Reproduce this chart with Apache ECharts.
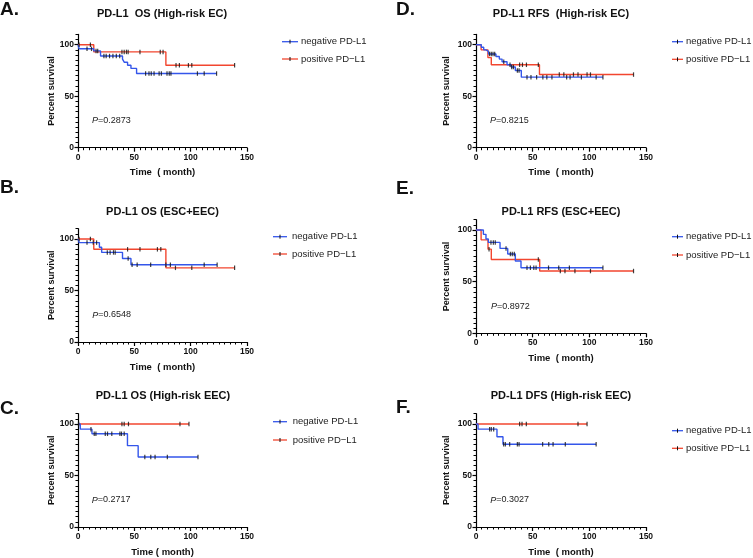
<!DOCTYPE html>
<html><head><meta charset="utf-8">
<script src="https://cdn.jsdelivr.net/npm/echarts@6/dist/echarts.min.js"></script>
<style>html,body{margin:0;padding:0;background:#fff}#c{width:753px;height:558px}</style>
</head><body><div id="c"></div>
<script>
// ---------- labels ----------
const panelLetters = ['A.', 'B.', 'C.', 'D.', 'E.', 'F.'];
const panelTitles = ['PD-L1  OS (High-risk EC)', 'PD-L1 OS (ESC+EEC)', 'PD-L1 OS (High-risk EEC)',
                     'PD-L1 RFS  (High-risk EC)', 'PD-L1 RFS (ESC+EEC)', 'PD-L1 DFS (High-risk EEC)'];
const pValues = ['0.2873', '0.6548', '0.2717', '0.8215', '0.8972', '0.3027'];
const xNames = ['Time  ( month)', 'Time  ( month)', 'Time ( month)', 'Time  ( month)', 'Time  ( month)', 'Time  ( month)'];
const yName = 'Percent survival';
const seriesNames = ['negative PD-L1', 'positive PD\u2212L1'];
const xTicks = [0, 50, 100, 150];
const yTicks = [0, 50, 100];

// ---------- data: step times (t), survival after step (s), censor times (c) ----------
// A. OS High-risk EC
const A_neg_t = [0, 1, 14, 20, 39.5, 41, 44, 47, 52, 123];
const A_neg_s = [100, 96, 94, 89, 86, 83, 80, 77, 72, 72];
const A_neg_c = [8, 12, 16, 17.5, 23, 25, 28, 31, 34, 37, 60, 63, 65, 67.5, 72, 74, 79, 81, 82.5, 106, 112, 123];
const A_pos_t = [0, 14, 78, 139];
const A_pos_s = [100, 93, 80, 80];
const A_pos_c = [1, 11, 39, 41, 43, 44.5, 55, 73, 75.5, 87, 90, 98, 101, 139];
// B. OS ESC+EEC
const B_neg_t = [0, 1, 19, 21, 39.5, 47, 123.5];
const B_neg_s = [100, 96.5, 92, 87, 81, 75, 75];
const B_neg_c = [8, 13.5, 16.5, 26, 28.5, 31.5, 33, 44.5, 48, 52.5, 64.5, 78, 82, 112, 123.5];
const B_pos_t = [0, 14, 78, 139];
const B_pos_s = [100, 90, 72, 72];
const B_pos_c = [1, 11, 44, 55, 70.5, 73.5, 86.5, 101, 139];
// C. OS High-risk EEC
const C_neg_t = [0, 2, 12.4, 43.9, 53.4, 106.5];
const C_neg_s = [100, 95, 90.5, 79, 68, 68];
const C_neg_c = [0.5, 11.5, 14.4, 15.9, 24.2, 26.2, 30, 37.2, 38.6, 41, 59.3, 64.6, 68.4, 79.3, 106.5];
const C_pos_t = [0, 98.5];
const C_pos_s = [100, 100];
const C_pos_c = [0.5, 39, 41, 44.8, 90.5, 98.5];
// D. RFS High-risk EC
const D_neg_t = [0, 4.7, 6.8, 8.8, 11, 17.6, 20.6, 23, 27.4, 31, 34.7, 40, 112];
const D_neg_s = [100, 97.5, 95, 93.5, 91, 88.5, 86, 83.4, 80.5, 78.3, 75, 68.5, 68.5];
const D_neg_c = [12, 13.5, 15, 16.5, 24.5, 30, 31.5, 33, 36.5, 38, 45, 48.5, 53.5, 59, 62.5, 67, 80, 83, 93, 106, 112];
const D_pos_t = [0, 4.5, 10.5, 13.5, 56, 139];
const D_pos_s = [100, 95, 87.5, 80.5, 71, 71];
const D_pos_c = [38.5, 41, 44.5, 55, 73.5, 77.5, 86, 90, 98, 101, 139];
// E. RFS ESC+EEC
const E_neg_t = [0, 6.5, 8.8, 10.9, 21.2, 28, 34.7, 39.7, 112];
const E_neg_s = [100, 95.8, 91.3, 88, 82.2, 76.8, 70, 63.5, 63.5];
const E_neg_c = [13.2, 15.3, 17, 26.5, 30.3, 32, 33.8, 45, 48, 51, 53, 64, 73, 82.4, 112];
const E_pos_t = [0, 4.5, 10.6, 13.5, 56.2, 139];
const E_pos_s = [100, 90.5, 81.5, 71.5, 60.3, 60.3];
const E_pos_c = [11.5, 55, 74.4, 78.5, 87.3, 101, 139];
// F. DFS High-risk EEC
const F_neg_t = [0, 1.8, 18.5, 23.8, 106];
const F_neg_s = [100, 95, 87.6, 80.4, 80.4];
const F_neg_c = [12, 13.5, 15.6, 24.4, 25.9, 29.7, 36.5, 38, 58.8, 64.2, 68, 78.8, 106];
const F_pos_t = [0, 98];
const F_pos_s = [100, 100];
const F_pos_c = [38.5, 40.6, 44.4, 90, 98];

const panelData = [
  [[A_neg_t, A_neg_s, A_neg_c], [A_pos_t, A_pos_s, A_pos_c]],
  [[B_neg_t, B_neg_s, B_neg_c], [B_pos_t, B_pos_s, B_pos_c]],
  [[C_neg_t, C_neg_s, C_neg_c], [C_pos_t, C_pos_s, C_pos_c]],
  [[D_neg_t, D_neg_s, D_neg_c], [D_pos_t, D_pos_s, D_pos_c]],
  [[E_neg_t, E_neg_s, E_neg_c], [E_pos_t, E_pos_s, E_pos_c]],
  [[F_neg_t, F_neg_s, F_neg_c], [F_pos_t, F_pos_s, F_pos_c]]
];

// ---------- layout (positions & styles) ----------
const grids = [
  {left: 78, top: 34.4, width: 169, height: 113.3},
  {left: 78, top: 228.7, width: 169, height: 113.3},
  {left: 78, top: 413.7, width: 169, height: 113.6},
  {left: 476, top: 34.4, width: 170, height: 113.3},
  {left: 476, top: 219.7, width: 170, height: 113.6},
  {left: 476, top: 413.7, width: 170, height: 113.6}
];
const yNameGaps = [22, 22, 22, 25, 25, 25];
const titlePos = [[162, 14.3], [162.5, 212.3], [163, 395.7], [561, 14.3], [561, 211.7], [561, 395.7]];
const letterPos = [[0, 10], [0, 188], [0, 409], [396, 10], [396, 188.5], [396, 407.5]];
const pPos = [[92, 120.7], [92.3, 315], [91.7, 500], [490, 120.7], [491, 306.7], [490.3, 500]];
const legPos = [ // x1, x2, textX, y1, y2
  [282, 298, 301, 41.7, 59], [273, 287, 292, 236.7, 254], [273, 287, 292.7, 421.7, 440],
  [672, 683, 686, 41.7, 59.3], [672, 683, 686, 236.7, 255], [672, 683, 686, 430.7, 448.3]
];
const colors = ['#3456ea', '#f2462f'];
const FONT = '"Liberation Sans", Arial, Helvetica, sans-serif';

function survAt(t, s, x) {
  let v = s[0];
  for (let i = 0; i < t.length; i++) { if (t[i] <= x) v = s[i]; }
  return v;
}

const option = {
  animation: false,
  backgroundColor: '#fff',
  grid: grids.map(g => Object.assign({containLabel: false}, g)),
  xAxis: [], yAxis: [], series: [], graphic: []
};

grids.forEach((g, i) => {
  option.xAxis.push({
    type: 'value', gridIndex: i, min: 0, max: 150, interval: 50,
    name: xNames[i], nameLocation: 'middle', nameGap: 20,
    nameTextStyle: {fontFamily: FONT, fontWeight: 'bold', fontSize: 9.5, color: '#111'},
    axisLine: {show: true, lineStyle: {color: '#000', width: 1.2}},
    axisTick: {show: true, length: 4, lineStyle: {color: '#000', width: 1.2}},
    minorTick: {show: true, splitNumber: 10, length: 2.5, lineStyle: {color: '#000', width: 1}},
    axisLabel: {fontFamily: FONT, fontWeight: 'bold', fontSize: 8.5, color: '#111', margin: 5,
      customValues: xTicks},
    splitLine: {show: false}, minorSplitLine: {show: false}
  });
  option.yAxis.push({
    type: 'value', gridIndex: i, position: 'left', min: 0, max: 110, interval: 50,
    name: yName, nameLocation: 'middle', nameGap: yNameGaps[i], nameRotate: 90,
    nameTextStyle: {fontFamily: FONT, fontWeight: 'bold', fontSize: 9, color: '#111'},
    axisLine: {show: true, lineStyle: {color: '#000', width: 1.2}},
    axisTick: {show: true, length: 3.5, customValues: yTicks, lineStyle: {color: '#000', width: 1.2}},
    axisLabel: {fontFamily: FONT, fontWeight: 'bold', fontSize: 8.5, color: '#111', margin: 4,
      customValues: yTicks, formatter: v => (v > 100 ? '' : String(v))},
    splitLine: {show: false}
  });
  option.yAxis.push({
    type: 'value', gridIndex: i, position: 'left', offset: 0, min: 0, max: 110, interval: 5,
    axisLine: {show: false, onZero: false},
    axisTick: {show: true, length: 2.5, lineStyle: {color: '#000', width: 1}},
    axisLabel: {show: false}, splitLine: {show: false}
  });
  const yIdx = i * 2;
  [1, 0].forEach(k => {
    const [t, s, c] = panelData[i][k];
    option.series.push({
      type: 'line', name: seriesNames[k], xAxisIndex: i, yAxisIndex: yIdx,
      step: 'end', showSymbol: false, symbol: 'none', silent: true,
      lineStyle: {color: colors[k], width: 1.4}, z: 2 + (k === 0 ? 1 : 0),
      data: t.map((x, j) => [x, s[j]])
    });
  });
  [1, 0].forEach(k => {
    const [t, s, c] = panelData[i][k];
    option.series.push({
      type: 'scatter', name: seriesNames[k] + ' censored', xAxisIndex: i, yAxisIndex: yIdx,
      symbol: 'rect', symbolSize: [1.2, 4.5], silent: true,
      itemStyle: {color: '#111'}, z: 5,
      data: c.map(x => [x, survAt(t, s, x)])
    });
  });

  option.graphic.push({type: 'text', x: titlePos[i][0], y: titlePos[i][1], silent: true,
    style: {text: panelTitles[i], fill: '#111', font: 'bold 11px ' + FONT,
      textAlign: 'center', textVerticalAlign: 'middle', align: 'center', verticalAlign: 'middle'}});
  option.graphic.push({type: 'text', x: letterPos[i][0], y: letterPos[i][1], silent: true,
    style: {text: panelLetters[i], fill: '#111', font: 'bold 19px ' + FONT,
      textAlign: 'left', textVerticalAlign: 'middle', align: 'left', verticalAlign: 'middle'}});
  option.graphic.push({type: 'text', x: pPos[i][0], y: pPos[i][1], silent: true,
    style: {text: '{i|P}=' + pValues[i], fill: '#222', font: '9px ' + FONT,
      rich: {i: {fontStyle: 'italic', fontSize: 9, fontFamily: FONT, fill: '#222'}},
      textAlign: 'left', textVerticalAlign: 'middle', align: 'left', verticalAlign: 'middle'}});
  const [x1, x2, tx, y1, y2] = legPos[i];
  [y1, y2].forEach((yy, k) => {
    option.graphic.push({type: 'line', silent: true,
      shape: {x1: x1, y1: yy, x2: x2, y2: yy}, style: {stroke: colors[k], lineWidth: 1.3}});
    const xm = (x1 + x2) / 2;
    option.graphic.push({type: 'line', silent: true,
      shape: {x1: xm, y1: yy - 2, x2: xm, y2: yy + 2}, style: {stroke: '#111', lineWidth: 1}});
    option.graphic.push({type: 'text', x: tx, y: yy, silent: true,
      style: {text: seriesNames[k], fill: '#222', font: '9.5px ' + FONT,
        textAlign: 'left', textVerticalAlign: 'middle', align: 'left', verticalAlign: 'middle'}});
  });
});

const chart = echarts.init(document.getElementById('c'), null, {renderer: 'canvas'});
chart.setOption(option);
</script>
</body></html>
